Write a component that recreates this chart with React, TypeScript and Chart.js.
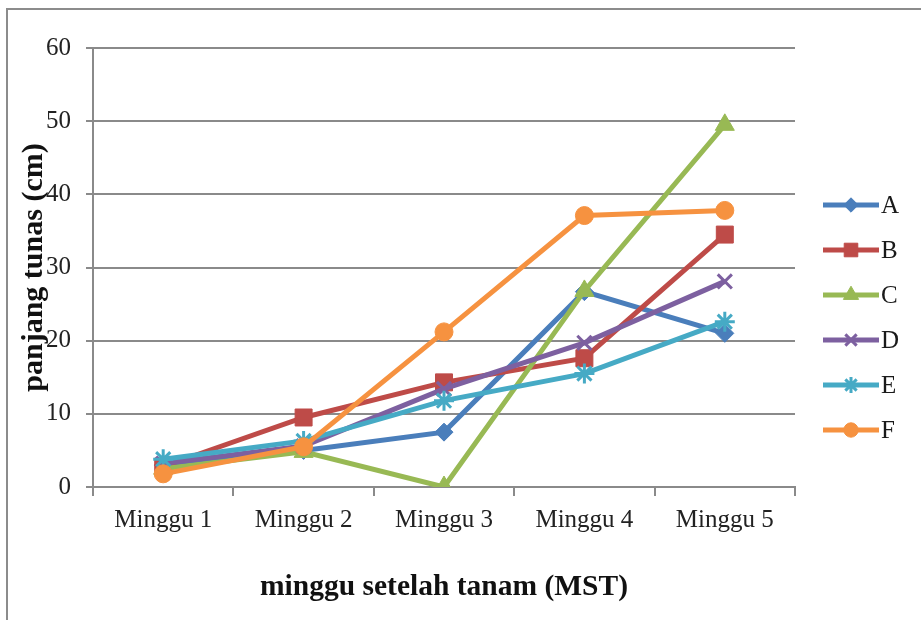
import React, { useEffect, useRef } from 'react';
import { Chart, registerables } from 'chart.js';
import { drawPoint } from 'chart.js/helpers';

Chart.register(...registerables);

const categories = ['Minggu 1', 'Minggu 2', 'Minggu 3', 'Minggu 4', 'Minggu 5'];
const seriesNames = ['A', 'B', 'C', 'D', 'E', 'F'];
const seriesA = [3.0, 5.0, 7.5, 26.7, 21.0];
const seriesB = [2.8, 9.5, 14.3, 17.6, 34.5];
const seriesC = [2.5, 4.8, 0, 26.8, 49.5];
const seriesD = [3.2, 5.6, 13.4, 19.7, 28.1];
const seriesE = [3.8, 6.3, 11.8, 15.5, 22.6];
const seriesF = [1.8, 5.5, 21.2, 37.1, 37.8];
const yTicks = [0, 10, 20, 30, 40, 50, 60];

const colors = ['#4A7EBB', '#BE4B48', '#98B954', '#7D60A0', '#46AAC5', '#F69240'];
const pointStyles = ['rectRot', 'rect', 'triangle', 'crossRot', 'star', 'circle'];
const radii = [9, 12, 11, 10, 10, 9];

export default function App() {
  const ref = useRef<HTMLCanvasElement>(null);

  useEffect(() => {
    const canvas = ref.current;
    if (!canvas) return;
    const allSeries = [seriesA, seriesB, seriesC, seriesD, seriesE, seriesF];

    const legendPlugin = {
      id: 'excelLegend',
      afterDraw(chart: any) {
        const ctx = chart.ctx;
        chart.data.datasets.forEach((ds: any, i: number) => {
          const y = 205 + i * 45;
          ctx.save();
          ctx.strokeStyle = ds.borderColor;
          ctx.fillStyle = ds.borderColor;
          ctx.lineWidth = 5;
          ctx.beginPath();
          ctx.moveTo(823, y);
          ctx.lineTo(879, y);
          ctx.stroke();
          ctx.lineWidth = ds.pointBorderWidth;
          drawPoint(ctx, { pointStyle: ds.pointStyle, rotation: 0, borderWidth: ds.pointBorderWidth, radius: ds.pointRadius * 0.8 }, 851, y);
          ctx.fillStyle = '#1a1a1a';
          ctx.font = '25px "Liberation Serif"';
          ctx.textBaseline = 'middle';
          ctx.textAlign = 'left';
          ctx.fillText(ds.label, 881, y + 1);
          ctx.restore();
        });
      },
    };

    const chart = new Chart(canvas, {
      type: 'line',
      data: {
        labels: categories,
        datasets: allSeries.map((d, i) => ({
          label: seriesNames[i],
          data: d,
          borderColor: colors[i],
          backgroundColor: colors[i],
          borderWidth: 5,
          pointStyle: pointStyles[i] as any,
          pointRadius: radii[i],
          pointBackgroundColor: colors[i],
          pointBorderColor: colors[i],
          pointBorderWidth: pointStyles[i] === 'crossRot' || pointStyles[i] === 'star' ? 3 : 1,
          tension: 0,
          fill: false,
          order: 6 - i,
        })),
      },
      options: {
        responsive: false,
        animation: false,
        layout: { padding: { top: 48, right: 126, left: 0, bottom: 0 } },
        plugins: { legend: { display: false }, tooltip: { enabled: false } },
        scales: {
          x: {
            offset: true,
            grid: { offset: true, drawOnChartArea: false, drawTicks: true, tickLength: 9, color: '#8a8a8a', lineWidth: 2 },
            border: { color: '#8a8a8a', width: 2 },
            ticks: { font: { family: 'Liberation Serif', size: 25 }, color: '#222', padding: 9, maxRotation: 0 },
            title: {
              display: true,
              text: 'minggu setelah tanam (MST)',
              font: { family: 'Liberation Serif', size: 29.5, weight: 'bold' },
              color: '#111',
              padding: { top: 0, bottom: 15 },
            },
            afterFit: (s: any) => { s.height = 133; },
          },
          y: {
            min: 0,
            max: 60,
            afterBuildTicks: (s: any) => { s.ticks = yTicks.map((v) => ({ value: v })); },
            grid: { color: '#8a8a8a', lineWidth: 2, tickLength: 7 },
            border: { color: '#8a8a8a', width: 2 },
            ticks: { font: { family: 'Liberation Serif', size: 25 }, color: '#222', padding: 15 },
            title: {
              display: true,
              text: 'panjang tunas (cm)',
              font: { family: 'Liberation Serif', size: 30, weight: 'bold' },
              color: '#111',
              padding: { top: 16, bottom: 0 },
            },
            afterFit: (s: any) => { s.width = 93; },
          },
        },
      },
      plugins: [legendPlugin],
    });
    return () => chart.destroy();
  }, []);

  return (
    <div style={{ position: 'fixed', left: 0, top: 0, width: 921, height: 620, background: '#fff', overflow: 'hidden' }}>
      <canvas ref={ref} width={921} height={620} style={{ position: 'absolute', left: 0, top: 0 }} />
      <div style={{ position: 'absolute', left: 6, top: 8, width: 1000, height: 1000, borderLeft: '2px solid #8c8c8c', borderTop: '2px solid #8c8c8c', pointerEvents: 'none' }} />
    </div>
  );
}
